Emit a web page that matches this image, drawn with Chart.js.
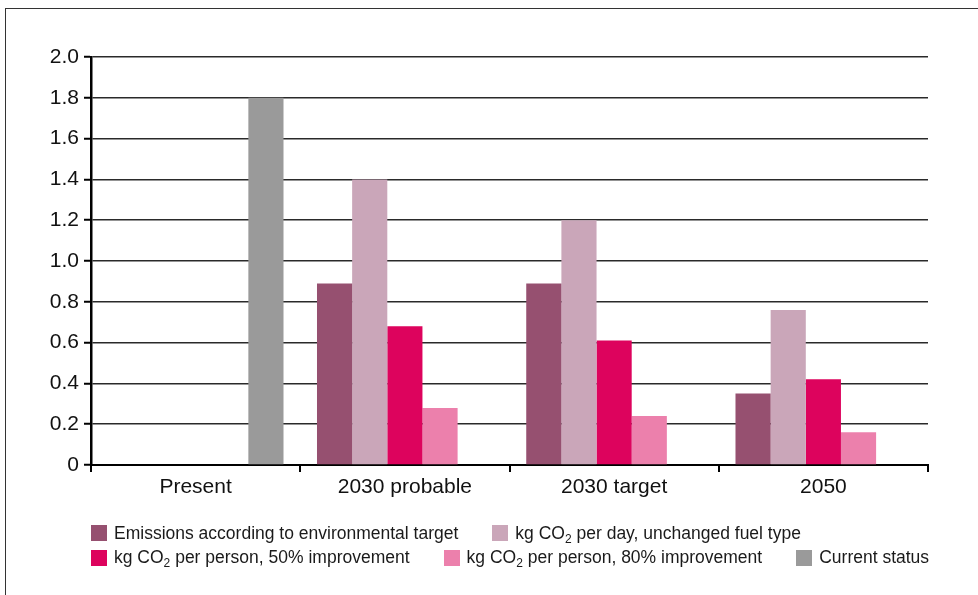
<!DOCTYPE html>
<html>
<head>
<meta charset="utf-8">
<script src="https://cdn.jsdelivr.net/npm/chart.js@4.4.1/dist/chart.umd.min.js"></script>
<style>
  html, body { margin: 0; padding: 0; background: #fff; }
  body { width: 978px; height: 595px; position: relative; overflow: hidden; font-family: "Liberation Sans", Arial, sans-serif; }
  #frame { position: absolute; left: 5px; top: 8px; width: 1000px; height: 700px; border: 1.5px solid #333; box-sizing: border-box; }
  #chart { position: absolute; left: 0; top: 0; }
  #legend { position: absolute; left: 91px; top: 521px; font-size: 17.5px; color: #1a1a1a; }
  .row { display: flex; gap: 34px; height: 24.5px; align-items: center; }
  .item { display: flex; align-items: center; white-space: nowrap; }
  .box { width: 16px; height: 16px; margin-right: 7px; }
  sub { font-size: 12px; vertical-align: -4px; line-height: 0; }
</style>
</head>
<body>
<div id="frame"></div>
<canvas id="chart" width="978" height="595"></canvas>
<div id="legend"></div>
<script>
const categories = ["Present", "2030 probable", "2030 target", "2050"];
const seriesNames = [
  "Emissions according to environmental target",
  "kg CO<sub>2</sub> per day, unchanged fuel type",
  "kg CO<sub>2</sub> per person, 50% improvement",
  "kg CO<sub>2</sub> per person, 80% improvement",
  "Current status"
];
const seriesColors = ["#965070", "#caa6b9", "#dd035d", "#ec80ac", "#9a9a9a"];
const envTarget = [null, 0.89, 0.89, 0.35];
const unchangedFuel = [null, 1.40, 1.20, 0.76];
const improve50 = [null, 0.68, 0.61, 0.42];
const improve80 = [null, 0.28, 0.24, 0.16];
const currentStatus = [1.80, null, null, null];
const yTicks = [0, 0.2, 0.4, 0.6, 0.8, 1.0, 1.2, 1.4, 1.6, 1.8, 2.0];

const allValues = [envTarget, unchangedFuel, improve50, improve80, currentStatus];

const datasets = allValues.map((vals, i) => ({
  label: seriesNames[i].replace(/<\/?sub>/g, ""),
  data: vals,
  backgroundColor: seriesColors[i],
  borderWidth: 0,
  categoryPercentage: 0.84,
  barPercentage: 1.0
}));

// legend laid out like the original: two rows
const legendRows = [[0, 1], [2, 3, 4]];
const legendEl = document.getElementById("legend");
legendRows.forEach(row => {
  const r = document.createElement("div");
  r.className = "row";
  row.forEach(i => {
    const it = document.createElement("div");
    it.className = "item";
    it.innerHTML = '<span class="box" style="background:' + seriesColors[i] + '"></span><span>' + seriesNames[i] + '</span>';
    r.appendChild(it);
  });
  legendEl.appendChild(r);
});

new Chart(document.getElementById("chart"), {
  type: "bar",
  data: { labels: categories, datasets: datasets },
  options: {
    responsive: false,
    animation: false,
    layout: { padding: { left: 0, top: 57, right: 50, bottom: 90 } },
    plugins: { legend: { display: false }, tooltip: { enabled: false } },
    scales: {
      x: {
        afterFit: s => { s.height = 40; },
        grid: { drawOnChartArea: false, drawTicks: true, tickLength: 7, color: "#000", lineWidth: 2 },
        border: { display: true, color: "#000", width: 2 },
        ticks: { color: "#111", font: { family: "Liberation Sans", size: 21 }, padding: 3 }
      },
      y: {
        min: 0,
        max: 2,
        afterFit: s => { s.width = 91; },
        afterBuildTicks: s => { s.ticks = yTicks.map(v => ({ value: v })); },
        grid: { color: "#2a2a2a", lineWidth: 1.5, tickLength: 7, tickColor: "#000", tickWidth: 2 },
        border: { display: true, color: "#000", width: 2.5 },
        ticks: {
          color: "#111",
          font: { family: "Liberation Sans", size: 21 },
          padding: 5,
          callback: v => v === 0 ? "0" : v.toFixed(1)
        }
      }
    }
  }
});
</script>
</body>
</html>
